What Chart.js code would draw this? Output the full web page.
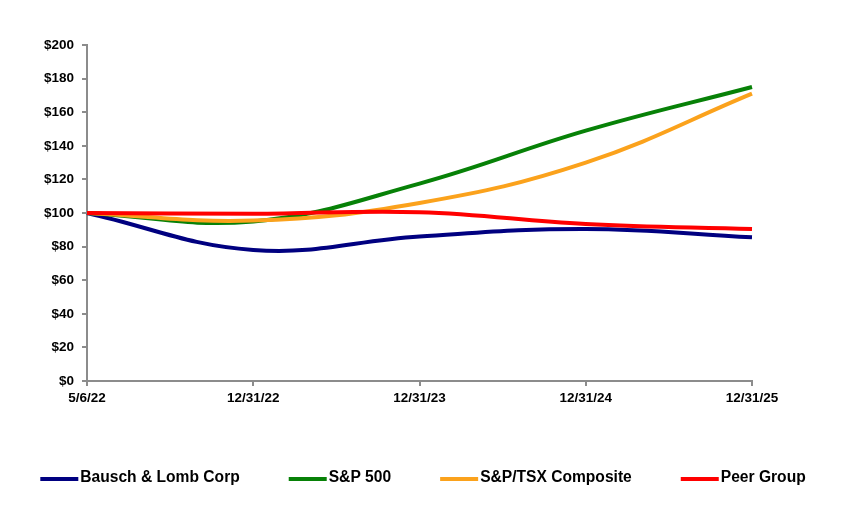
<!DOCTYPE html>
<html>
<head>
<meta charset="utf-8">
<script src="https://cdn.jsdelivr.net/npm/chart.js@4"></script>
<style>
    html, body { margin: 0; padding: 0; background: #fff; }
    #wrap { width: 849px; height: 507px; }
</style>
</head>
<body>
<div id="wrap"><canvas id="perfChart"></canvas></div>
<script>
// data
const dates = ["5/6/22", "12/31/22", "12/31/23", "12/31/24", "12/31/25"];
const bauschLomb = [100, 78, 86, 90.5, 85.5];
const sp500 = [100, 95, 117.5, 149, 175];
const spTsx = [100, 95.5, 106, 130, 171];
const peerGroup = [100, 99.5, 100.5, 93.5, 90.5];

const axisGray = "#8c8c8c";
const fontFamily = "Liberation Sans, Arial, sans-serif";

function makeSeries(label, data, color, order) {
    return {
        label: label,
        data: data,
        borderColor: color,
        backgroundColor: color,
        borderWidth: 4,
        pointRadius: 0,
        tension: 0.4,
        fill: false,
        order: order
    };
}

// legend drawn by hand so the spacing matches (line, text, gap)
const bottomLegend = {
    id: "bottomLegend",
    afterDraw: function (chart) {
        const ctx = chart.ctx;
        const lineLen = 38, textGap = 2, itemGap = 49, y = 478;
        ctx.save();
        ctx.font = "bold 15.6px " + fontFamily;
        const sets = chart.data.datasets;
        let total = 0;
        sets.forEach(function (ds, i) {
            total += lineLen + textGap + ctx.measureText(ds.label).width;
            if (i < sets.length - 1) total += itemGap;
        });
        let x = 423 - total / 2;
        sets.forEach(function (ds) {
            ctx.strokeStyle = ds.borderColor;
            ctx.lineWidth = 4;
            ctx.beginPath();
            ctx.moveTo(x, y + 1);
            ctx.lineTo(x + lineLen, y + 1);
            ctx.stroke();
            x += lineLen + textGap;
            ctx.fillStyle = "#000";
            ctx.textBaseline = "middle";
            ctx.fillText(ds.label, x, y);
            x += ctx.measureText(ds.label).width + itemGap;
        });
        ctx.restore();
    }
};

new Chart("perfChart", {
    type: "line",
    data: {
        labels: dates,
        datasets: [
            makeSeries("Bausch & Lomb Corp", bauschLomb, "#000080", 4),
            makeSeries("S&P 500", sp500, "#078107", 3),
            makeSeries("S&P/TSX Composite", spTsx, "#FBA21C", 2),
            makeSeries("Peer Group", peerGroup, "#FF0000", 1)
        ]
    },
    options: {
        responsive: true,
        maintainAspectRatio: false,
        animation: false,
        layout: { padding: { left: 0, right: 97, top: 45, bottom: 86 } },
        plugins: {
            tooltip: { enabled: false },
            legend: { display: false }
        },
        scales: {
            x: {
                offset: false,
                border: { display: true, color: axisGray, width: 2 },
                grid: { drawOnChartArea: false, drawTicks: true, tickLength: 5, color: axisGray, lineWidth: 2 },
                ticks: {
                    color: "#000",
                    padding: 4,
                    maxRotation: 0,
                    autoSkip: false,
                    font: { family: fontFamily, size: 13.5, weight: "bold" }
                },
                afterFit: function (scale) { scale.height = 40; }
            },
            y: {
                min: 0,
                max: 200,
                border: { display: true, color: axisGray, width: 2 },
                grid: { drawOnChartArea: false, drawTicks: true, tickLength: 5, color: axisGray, lineWidth: 2 },
                ticks: {
                    stepSize: 20,
                    color: "#000",
                    padding: 8,
                    font: { family: fontFamily, size: 13.5, weight: "bold" },
                    callback: function (v) { return "$" + v; }
                },
                afterFit: function (scale) { scale.width = 87; }
            }
        }
    },
    plugins: [bottomLegend]
});
</script>
</body>
</html>
